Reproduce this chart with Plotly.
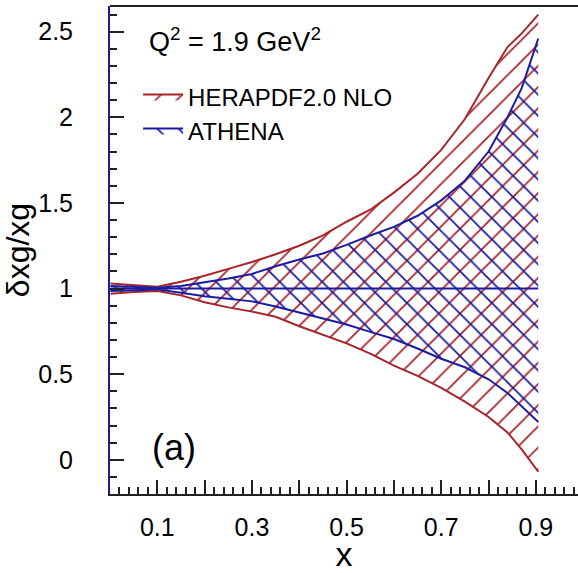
import plotly.graph_objects as go

# ---- data ----
x_grid = [0.001, 0.05, 0.1, 0.15, 0.2, 0.25, 0.3, 0.35, 0.4, 0.45, 0.5,
          0.55, 0.6, 0.65, 0.7, 0.75, 0.8, 0.84, 0.87, 0.905]
hera_upper = [1.03, 1.02, 1.01, 1.04, 1.075, 1.115, 1.155, 1.20, 1.25, 1.31, 1.39,
              1.46, 1.56, 1.67, 1.81, 1.99, 2.23, 2.41, 2.49, 2.60]
hera_lower = [0.97, 0.98, 0.985, 0.96, 0.92, 0.89, 0.865, 0.835, 0.78, 0.73, 0.68,
              0.62, 0.55, 0.49, 0.42, 0.34, 0.25, 0.16, 0.06, -0.07]
athena_upper = [1.015, 1.01, 1.005, 1.015, 1.035, 1.058, 1.085, 1.13, 1.17, 1.205, 1.255,
                1.31, 1.36, 1.425, 1.515, 1.63, 1.80, 2.0, 2.17, 2.46]
athena_lower = [0.985, 0.99, 0.995, 0.975, 0.955, 0.94, 0.925, 0.895, 0.86, 0.825, 0.79,
                0.747, 0.705, 0.65, 0.59, 0.54, 0.47, 0.39, 0.31, 0.22]
central = [1.0] * len(x_grid)

x_tickvals = [0.1, 0.2, 0.3, 0.4, 0.5, 0.6, 0.7, 0.8, 0.9]
x_ticktext = ["0.1", "", "0.3", "", "0.5", "", "0.7", "", "0.9"]
y_tickvals = [0, 0.5, 1, 1.5, 2, 2.5]
y_ticktext = ["0", "0.5", "1", "1.5", "2", "2.5"]

RED = "#a8242c"
BLUE = "#1c1ca0"
FONT = "Liberation Sans"

fig = go.Figure()

# HERAPDF band
fig.add_trace(go.Scatter(x=x_grid, y=hera_lower, mode="lines",
                         line=dict(color=RED, width=2), showlegend=False,
                         hoverinfo="skip"))
fig.add_trace(go.Scatter(x=x_grid, y=hera_upper, mode="lines", fill="tonexty",
                         fillcolor="rgba(0,0,0,0)",
                         fillpattern=dict(shape="/", fgcolor=RED, bgcolor="rgba(0,0,0,0)",
                                          size=15, solidity=0.12, fillmode="replace"),
                         line=dict(color=RED, width=2), name="HERAPDF2.0 NLO"))
# ATHENA band
fig.add_trace(go.Scatter(x=x_grid, y=athena_lower, mode="lines",
                         line=dict(color=BLUE, width=2), showlegend=False,
                         hoverinfo="skip"))
fig.add_trace(go.Scatter(x=x_grid, y=athena_upper, mode="lines", fill="tonexty",
                         fillcolor="rgba(0,0,0,0)",
                         fillpattern=dict(shape="\\", fgcolor=BLUE, bgcolor="rgba(0,0,0,0)",
                                          size=15, solidity=0.12, fillmode="replace"),
                         line=dict(color=BLUE, width=2), name="ATHENA"))
# central value
fig.add_trace(go.Scatter(x=x_grid, y=central, mode="lines",
                         line=dict(color=BLUE, width=2), showlegend=False))

fig.update_layout(
    width=578, height=573,
    margin=dict(l=110, r=0, t=6, b=79),
    paper_bgcolor="white", plot_bgcolor="white",
    font=dict(family=FONT, size=25, color="black"),
    showlegend=True,
    legend=dict(x=0.06, y=0.86, xanchor="left", yanchor="top", traceorder="normal",
                bgcolor="rgba(0,0,0,0)", font=dict(size=24, family=FONT),
                itemwidth=40, tracegroupgap=0),
    annotations=[
        dict(text="Q<sup>2</sup> = 1.9 GeV<sup>2</sup>", xref="paper", yref="paper",
             x=0.08, y=0.97, xanchor="left", yanchor="top", showarrow=False,
             font=dict(size=27, family=FONT)),
        dict(text="(a)", xref="paper", yref="paper",
             x=0.085, y=0.095, xanchor="left", yanchor="middle", showarrow=False,
             font=dict(size=36, family=FONT)),
    ],
    shapes=[dict(type="line", xref="paper", yref="paper", x0=0, x1=1, y0=1, y1=1,
                 line=dict(color="#222", width=2))],
)

fig.update_xaxes(
    range=[0, 0.989], showgrid=False, zeroline=False,
    showline=True, linecolor="#222", linewidth=2,
    ticks="inside", ticklen=14, tickwidth=1.5, tickcolor="#222",
    tickvals=x_tickvals, ticktext=x_ticktext, ticklabelstandoff=10,
    tickfont=dict(size=25, family=FONT),
    minor=dict(dtick=0.02, ticks="inside", ticklen=7, tickwidth=1.5, tickcolor="#222"),
    title=dict(text="x", font=dict(size=34, family=FONT), standoff=9),
)
fig.update_yaxes(
    range=[-0.2, 2.65], showgrid=False, zeroline=False,
    showline=True, linecolor=BLUE, linewidth=2,
    ticks="inside", ticklen=14, tickwidth=1.5, tickcolor="#222",
    tickvals=y_tickvals, ticktext=y_ticktext, ticklabelstandoff=30,
    tickfont=dict(size=25, family=FONT),
    minor=dict(dtick=0.1, ticks="inside", ticklen=7, tickwidth=1.5, tickcolor="#222"),
    title=dict(text="δxg/xg", font=dict(size=32, family=FONT), standoff=8),
)

fig.write_html("out.html")
